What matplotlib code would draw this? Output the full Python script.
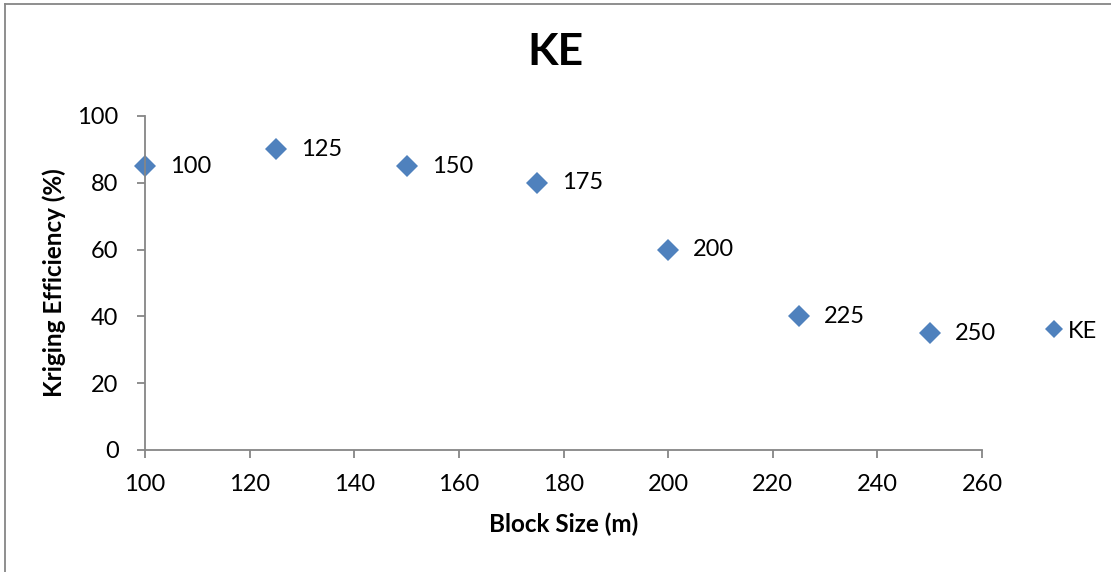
import matplotlib
matplotlib.use("Agg")
import matplotlib.pyplot as plt
from matplotlib.lines import Line2D

# Block size (m) versus kriging efficiency (%)
block_size = [100, 125, 150, 175, 200, 225, 250]
kriging_eff = [85, 90, 85, 80, 60, 40, 35]
point_labels = ["100", "125", "150", "175", "200", "225", "250"]
x_ticks = [100, 120, 140, 160, 180, 200, 220, 240, 260]
y_ticks = [0, 20, 40, 60, 80, 100]
series_name = "KE"

FONT = ["Lato", "DejaVu Sans"]
plt.rcParams["font.family"] = FONT

BLUE = "#4F81BD"
GRAY = "#868686"
FS = 17

W, H = 1111, 572
fig = plt.figure(figsize=(W / 100, H / 100), dpi=100)
fig.patch.set_facecolor("white")

ax = fig.add_axes([145 / W, 1 - 450 / H, (982 - 145) / W, (450 - 116) / H])
ax.set_xlim(100, 260)
ax.set_ylim(0, 100)

ax.plot(block_size, kriging_eff, linestyle="none", marker="D", ms=11.5,
        color=BLUE, markeredgewidth=0, label=series_name, clip_on=False)

for x, y, t in zip(block_size, kriging_eff, point_labels):
    ax.annotate(t, (x, y), xytext=(18, 0), textcoords="offset points",
                ha="left", va="center", fontsize=FS, color="black")

ax.set_xticks(x_ticks)
ax.set_yticks(y_ticks)
for s in ("top", "right"):
    ax.spines[s].set_visible(False)
for s in ("left", "bottom"):
    ax.spines[s].set_color(GRAY)
    ax.spines[s].set_linewidth(1.3)
ax.tick_params(axis="both", direction="out", length=6, width=1.3, color=GRAY,
               labelsize=FS, labelcolor="black")
ax.tick_params(axis="x", pad=11)
ax.tick_params(axis="y", pad=13)

ax.set_xlabel("Block Size (m)", fontsize=17.5, fontweight="bold", labelpad=13)
ax.set_ylabel("Kriging Efficiency (%)", fontsize=17.5, fontweight="bold", labelpad=8)

fig.text(555 / W, 1 - 52 / H, "KE", ha="center", va="center",
         fontsize=32, fontweight="bold")

leg = fig.legend(loc="center left", bbox_to_anchor=(1045 / W, 1 - 331 / H),
                 frameon=False, fontsize=FS, handlelength=0.8,
                 handletextpad=0.18, borderpad=0, borderaxespad=0,
                 markerscale=0.8)

# chart-area border (left and top edges)
fig.add_artist(Line2D([5 / W, 5 / W], [0, 1 - 4 / H], transform=fig.transFigure,
                      color=GRAY, linewidth=1.3))
fig.add_artist(Line2D([5 / W, 1], [1 - 4 / H, 1 - 4 / H], transform=fig.transFigure,
                      color=GRAY, linewidth=1.3))

fig.savefig("out.png", dpi=100, facecolor="white")
